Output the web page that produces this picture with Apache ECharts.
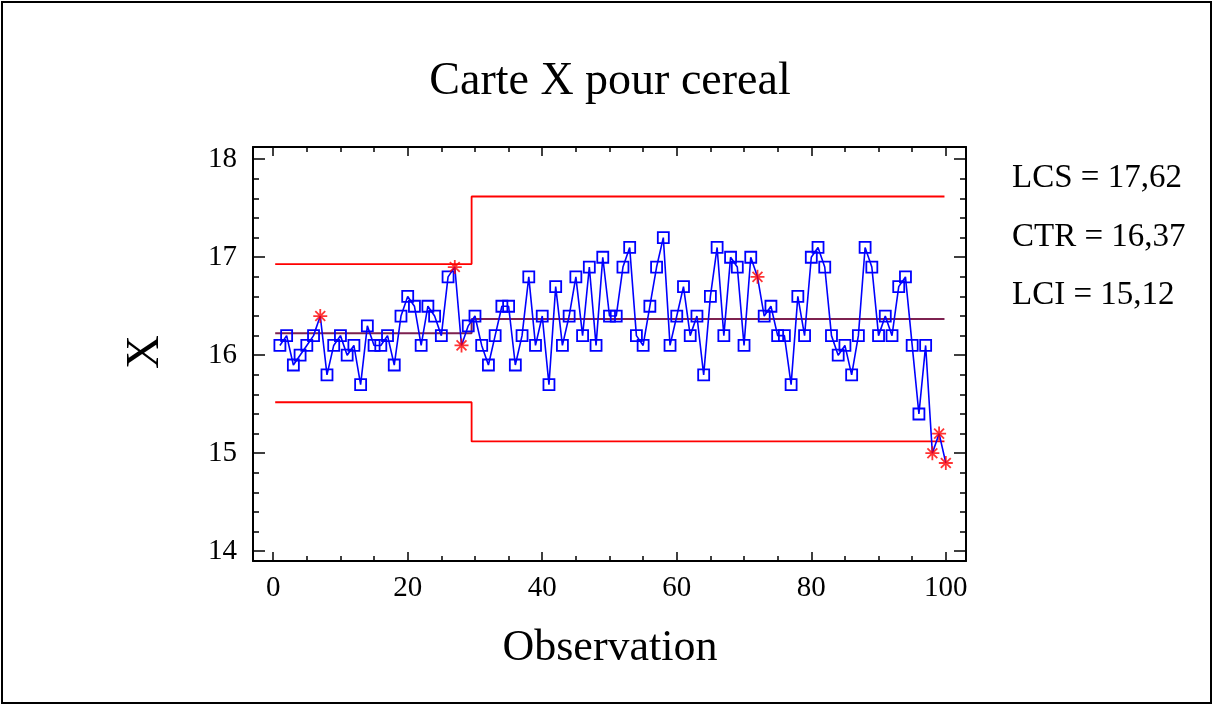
<!DOCTYPE html>
<html>
<head>
<meta charset="utf-8">
<script src="https://cdn.jsdelivr.net/npm/echarts@6/dist/echarts.min.js"></script>
<style>
  html, body { margin: 0; padding: 0; background: #ffffff; }
  #chart { width: 1214px; height: 706px; }
</style>
</head>
<body>
<div id="chart"></div>
<script>
// Cereal fill weights, one subgroup value per observation
const observations = Array.from({ length: 100 }, (_, i) => i + 1);
const xValues = [
  16.1, 16.2, 15.9, 16.0, 16.1, 16.2, 16.4, 15.8, 16.1, 16.2,
  16.0, 16.1, 15.7, 16.3, 16.1, 16.1, 16.2, 15.9, 16.4, 16.6,
  16.5, 16.1, 16.5, 16.4, 16.2, 16.8, 16.9, 16.1, 16.3, 16.4,
  16.1, 15.9, 16.2, 16.5, 16.5, 15.9, 16.2, 16.8, 16.1, 16.4,
  15.7, 16.7, 16.1, 16.4, 16.8, 16.2, 16.9, 16.1, 17.0, 16.4,
  16.4, 16.9, 17.1, 16.2, 16.1, 16.5, 16.9, 17.2, 16.1, 16.4,
  16.7, 16.2, 16.4, 15.8, 16.6, 17.1, 16.2, 17.0, 16.9, 16.1,
  17.0, 16.8, 16.4, 16.5, 16.2, 16.2, 15.7, 16.6, 16.2, 17.0,
  17.1, 16.9, 16.2, 16.0, 16.1, 15.8, 16.2, 17.1, 16.9, 16.2,
  16.4, 16.2, 16.7, 16.8, 16.1, 15.4, 16.1, 15.0, 15.2, 14.9
];
// Observations flagged by the run rules
const flagged = [7, 27, 28, 72, 98, 99, 100];

// Control limits: study phase (obs 1-29) then monitoring phase (obs 30-100)
const limitStart = 0.3, phaseBreak = 29.5, limitEnd = 99.8;
const ucl = [16.93, 17.62];
const ctr = [16.225, 16.37];
const lci = [15.52, 15.12];
const limitLabels = ['LCS = 17,62', 'CTR = 16,37', 'LCI = 15,12'];

// Axis ticks
const xMajor = [0, 20, 40, 60, 80, 100];
const xMinor = [5, 10, 15, 25, 30, 35, 45, 50, 55, 65, 70, 75, 85, 90, 95];
const yMajor = [14, 15, 16, 17, 18];
const yMinor = [14.2, 14.4, 14.6, 14.8, 15.2, 15.4, 15.6, 15.8, 16.2, 16.4, 16.6, 16.8, 17.2, 17.4, 17.6, 17.8];

const SERIF = '"Liberation Serif", "Times New Roman", serif';
const X_MIN = -3, X_MAX = 103, Y_MIN = 13.9, Y_MAX = 18.125;
const gridBox = { left: 253, right: 248, top: 147, bottom: 145 };

function stepLine(vals) {
  return [[limitStart, vals[0]], [phaseBreak, vals[0]], [phaseBreak, vals[1]], [limitEnd, vals[1]]];
}

function xAxisDef(grid, pos, ticks, len, labels, line) {
  return {
    type: 'value', gridIndex: grid, position: pos, min: X_MIN, max: X_MAX,
    axisLine: { show: line, onZero: false, lineStyle: { color: '#000', width: 2 } },
    axisTick: { show: true, inside: true, length: len, customValues: ticks, lineStyle: { color: '#000', width: 1.5 } },
    axisLabel: labels ? { show: true, customValues: ticks, margin: 13, color: '#000', fontFamily: SERIF, fontSize: 29 } : { show: false },
    splitLine: { show: false }
  };
}
function yAxisDef(grid, pos, ticks, len, labels, line) {
  return {
    type: 'value', gridIndex: grid, position: pos, min: Y_MIN, max: Y_MAX,
    axisLine: { show: line, onZero: false, lineStyle: { color: '#000', width: 2 } },
    axisTick: { show: true, inside: true, length: len, customValues: ticks, lineStyle: { color: '#000', width: 1.5 } },
    axisLabel: labels ? { show: true, customValues: ticks, margin: 16, color: '#000', fontFamily: SERIF, fontSize: 29 } : { show: false },
    splitLine: { show: false }
  };
}

const lineData = observations.map((o, i) => {
  const item = { value: [o, xValues[i]] };
  if (flagged.includes(o)) item.symbol = 'none';
  return item;
});
const starData = flagged.map(o => [o, xValues[o - 1]]);

const asterisk = 'path://M0,6L12,6M6,0L6,12M1.76,1.76L10.24,10.24M10.24,1.76L1.76,10.24';

const chart = echarts.init(document.getElementById('chart'), null, { renderer: 'canvas' });
chart.setOption({
  animation: false,
  backgroundColor: '#ffffff',
  grid: [
    Object.assign({ containLabel: false }, gridBox),
    Object.assign({ containLabel: false }, gridBox)
  ],
  xAxis: [
    xAxisDef(0, 'bottom', xMajor, 9, true, true),
    xAxisDef(0, 'top', xMajor, 9, false, true),
    xAxisDef(1, 'bottom', xMinor, 5, false, false),
    xAxisDef(1, 'top', xMinor, 5, false, false)
  ],
  yAxis: [
    yAxisDef(0, 'left', yMajor, 12, true, true),
    yAxisDef(0, 'right', yMajor, 12, false, true),
    yAxisDef(1, 'left', yMinor, 6, false, false),
    yAxisDef(1, 'right', yMinor, 6, false, false)
  ],
  series: [
    {
      type: 'line', xAxisIndex: 0, yAxisIndex: 0, data: stepLine(ucl),
      symbol: 'none', lineStyle: { color: '#ff0000', width: 1.8 }, z: 2
    },
    {
      type: 'line', xAxisIndex: 0, yAxisIndex: 0, data: stepLine(lci),
      symbol: 'none', lineStyle: { color: '#ff0000', width: 1.8 }, z: 2
    },
    {
      type: 'line', xAxisIndex: 0, yAxisIndex: 0, data: stepLine(ctr),
      symbol: 'none', lineStyle: { color: '#7d2150', width: 2 }, z: 2
    },
    {
      type: 'line', xAxisIndex: 0, yAxisIndex: 0, data: lineData,
      symbol: 'rect', symbolSize: 11,
      itemStyle: { color: 'rgba(0,0,0,0)', borderColor: '#0000ff', borderWidth: 1.8 },
      lineStyle: { color: '#0000ff', width: 1.6 }, z: 3
    },
    {
      type: 'scatter', xAxisIndex: 0, yAxisIndex: 0, data: starData,
      symbol: asterisk, symbolSize: 14,
      itemStyle: { color: 'rgba(0,0,0,0)', borderColor: '#ff0000', borderWidth: 1.8 }, z: 4
    }
  ],
  graphic: [
    { type: 'rect', shape: { x: 2, y: 2, width: 1209, height: 701 }, style: { fill: 'none', stroke: '#000', lineWidth: 2 }, silent: true },
    { type: 'text', x: 610, y: 82, style: { text: 'Carte X pour cereal', font: '46px ' + SERIF, fill: '#000', align: 'center', verticalAlign: 'middle' } },
    { type: 'text', x: 610, y: 648, style: { text: 'Observation', font: '44px ' + SERIF, fill: '#000', align: 'center', verticalAlign: 'middle' } },
    { type: 'text', x: 146, y: 352, rotation: Math.PI / 2, style: { text: 'X', font: '47px ' + SERIF, fill: '#000', align: 'center', verticalAlign: 'middle' } },
    { type: 'text', x: 1012, y: 178, style: { text: limitLabels[0], font: '33px ' + SERIF, fill: '#000', align: 'left', verticalAlign: 'middle' } },
    { type: 'text', x: 1012, y: 237, style: { text: limitLabels[1], font: '33px ' + SERIF, fill: '#000', align: 'left', verticalAlign: 'middle' } },
    { type: 'text', x: 1012, y: 295, style: { text: limitLabels[2], font: '33px ' + SERIF, fill: '#000', align: 'left', verticalAlign: 'middle' } }
  ]
});
</script>
</body>
</html>
